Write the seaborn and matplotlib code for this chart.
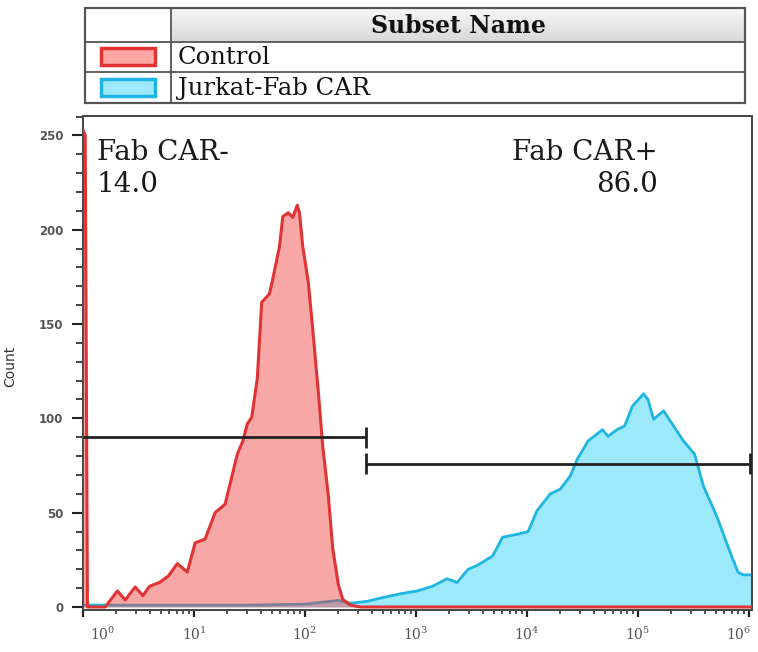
import matplotlib
matplotlib.use("Agg")
import matplotlib.pyplot as plt
import matplotlib.ticker as mticker
import matplotlib.transforms as mtransforms
from matplotlib.colors import LinearSegmentedColormap
from matplotlib.patches import Rectangle
import numpy as np
import pandas as pd
import seaborn as sns

# histogram values (x in log10 units, y = count)
control_log = [0.0, 0.02, 0.04, 0.06, 0.20, 0.31, 0.38, 0.47, 0.54, 0.60, 0.69,
               0.77, 0.85, 0.94, 1.01, 1.10, 1.19, 1.28, 1.32, 1.39, 1.44, 1.48,
               1.52, 1.57, 1.61, 1.68, 1.71, 1.77, 1.80, 1.85, 1.89, 1.93, 1.95,
               1.98, 2.03, 2.07, 2.12, 2.16, 2.21, 2.25, 2.30, 2.34, 2.41, 2.50,
               3.0, 4.0, 5.0, 6.03]
control_count = [253, 250, 0, 0, 0, 8.5, 3.7, 10.6, 6, 11, 13,
                 16.5, 23, 18.5, 34, 36, 50, 54.5, 64, 81, 88, 97,
                 100.6, 121, 161.5, 166, 174, 191, 207, 209, 206.5, 213, 209,
                 191, 172, 147, 114, 85, 59, 31, 12, 4, 1, 0,
                 0, 0, 0, 0]

car_log = [0.0, 0.3, 1.0, 1.5, 2.0, 2.15, 2.3, 2.41, 2.56, 2.70, 2.86, 3.01,
           3.15, 3.28, 3.37, 3.47, 3.55, 3.69, 3.78, 3.91, 4.01, 4.09, 4.21,
           4.30, 4.39, 4.45, 4.55, 4.68, 4.73, 4.81, 4.88, 4.95, 5.05, 5.09,
           5.14, 5.23, 5.32, 5.41, 5.51, 5.59, 5.71, 5.83, 5.90, 5.95, 6.03]
car_count = [1, 1, 1, 1, 1.5, 2.5, 3.5, 2, 3, 5, 7, 8.5,
             11, 15, 13, 20, 22, 27, 37, 38.5, 40, 51, 60,
             62.5, 69.5, 78, 88, 94, 90.5, 94, 96, 106.5, 113, 110,
             99.5, 104, 96, 88, 81, 64, 48, 29, 18.5, 17, 17]

subset_names = ["Control", "Jurkat-Fab CAR"]

# gates
gate_split = 10 ** 2.55
gate_end = 10 ** 6.01
gate_neg_y = 90
gate_pos_y = 76
gate_labels = ["Fab CAR-", "Fab CAR+"]
gate_values = ["14.0", "86.0"]

red_line = "#e03434"
red_fill = "#f03c3c"
blue_line = "#1fb5e3"
blue_fill = "#9ce9fb"

sns.set_style("ticks")
plt.rcParams["font.family"] = ["DejaVu Sans"]

W, H = 758, 652
fig = plt.figure(figsize=(W / 100, H / 100), dpi=100)
ax = fig.add_axes([83 / W, 1 - 610 / H, (752 - 83) / W, (610 - 116) / H])
ax.set_xscale("log")

ctrl = pd.DataFrame({"x": 10 ** np.array(control_log), "count": control_count})
car = pd.DataFrame({"x": 10 ** np.array(car_log), "count": car_count})

ax.fill_between(car["x"], car["count"], color=blue_fill, lw=0, zorder=1)
sns.lineplot(data=car, x="x", y="count", color=blue_line, lw=2, estimator=None, ax=ax, zorder=2)
ax.fill_between(ctrl["x"], ctrl["count"], color=red_fill, alpha=0.45, lw=0, zorder=3)
sns.lineplot(data=ctrl, x="x", y="count", color=red_line, lw=2.2, estimator=None, ax=ax, zorder=4)

# gate bars
gk = dict(color="#222222", lw=2, zorder=5)
ax.hlines(gate_neg_y, 1, gate_split, **gk)
ax.vlines(gate_split, gate_neg_y - 5.5, gate_neg_y + 5.5, **gk)
ax.hlines(gate_pos_y, gate_split, gate_end, **gk)
ax.vlines([gate_split, gate_end], gate_pos_y - 5.5, gate_pos_y + 5.5, **gk)

tk = dict(transform=ax.transAxes, family="DejaVu Serif", fontsize=20, color="#1a1a1a", va="baseline")
ax.text(0.021, 0.911, gate_labels[0], ha="left", **tk)
ax.text(0.021, 0.846, gate_values[0], ha="left", **tk)
ax.text(0.8595, 0.911, gate_labels[1], ha="right", **tk)
ax.text(0.8595, 0.846, gate_values[1], ha="right", **tk)

ax.set_xlim(1, 10 ** 6.027)
ax.set_ylim(-1.6, 260.3)
ax.xaxis.set_major_locator(mticker.FixedLocator([10.0 ** k for k in range(7)]))
ax.xaxis.set_minor_locator(mticker.LogLocator(base=10, subs=np.arange(2, 10), numticks=20))
ax.xaxis.set_minor_formatter(mticker.NullFormatter())
ax.yaxis.set_major_locator(mticker.MultipleLocator(50))
ax.yaxis.set_minor_locator(mticker.MultipleLocator(10))

ax.tick_params(axis="y", which="major", length=8, width=1.5, pad=6, color="#222", labelsize=8.5, labelcolor="#555")
ax.tick_params(axis="y", which="minor", length=5, width=1.2, color="#222")
ax.tick_params(axis="x", which="major", length=5, width=1.6, pad=6, color="#222", labelsize=10, labelcolor="#555")
ax.tick_params(axis="x", which="minor", length=3, width=1.1, color="#222")
for lab in ax.get_yticklabels():
    lab.set_fontweight("bold")
for lab in ax.get_xticklabels():
    lab.set_family("DejaVu Serif")

# FlowJo-style nudges of the end labels
xt = ax.xaxis.get_major_ticks()
first = xt[0].label1
first.set_transform(first.get_transform() + mtransforms.ScaledTranslation(0.2, 0, fig.dpi_scale_trans))
last = xt[-1].label1
last.set_transform(last.get_transform() + mtransforms.ScaledTranslation(-0.1, 0, fig.dpi_scale_trans))

for side in ["left", "right", "top", "bottom"]:
    ax.spines[side].set_visible(True)
    ax.spines[side].set_color("#444")
    ax.spines[side].set_linewidth(1.4)

ax.set_xlabel("")
ax.set_ylabel("Count", fontsize=10, color="#333")
ax.yaxis.set_label_coords(-0.098, 0.494)

# subset table at the top
tax = fig.add_axes([0, 0, 1, 1])
grad = LinearSegmentedColormap.from_list("hdr", ["#f7f7f7", "#d8d8d8"])
tax.imshow(np.linspace(0, 1, 50).reshape(-1, 1), cmap=grad, extent=[171, 745, 42, 8], aspect="auto", zorder=0)
tax.set_xlim(0, W)
tax.set_ylim(H, 0)
tax.axis("off")
tax.add_patch(Rectangle((85, 8), 660, 95, fill=False, ec="#555", lw=1.6, zorder=3))
tax.hlines([42, 72], 85, 745, color="#555", lw=1.3, zorder=3)
tax.vlines(171, 8, 103, color="#555", lw=1.3, zorder=3)
tax.text(458, 26, "Subset Name", ha="center", va="center", family="DejaVu Serif",
         fontweight="bold", fontsize=17, color="#111")
swatches = [("#ffa6a6", red_line, 48), (blue_fill, blue_line, 79)]
for name, (fc, ec, y0) in zip(subset_names, swatches):
    tax.add_patch(Rectangle((101, y0), 54, 17, fc=fc, ec=ec, lw=2.5, zorder=2))
    tax.text(178, y0 + 9, name, ha="left", va="center", family="DejaVu Serif",
             fontsize=17.5, color="#111")

fig.savefig("out.png", dpi=100)
